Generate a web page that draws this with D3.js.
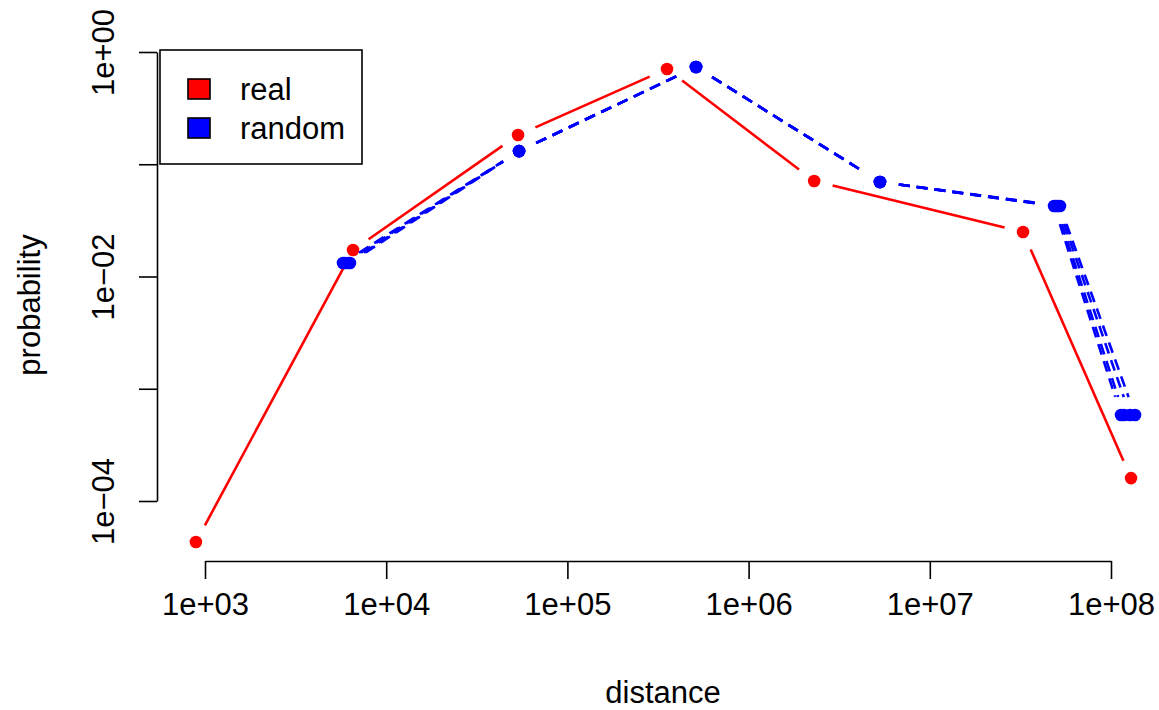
<!DOCTYPE html>
<html>
<head>
<meta charset="utf-8">
<script src="https://cdn.jsdelivr.net/npm/d3@7"></script>
<style>
  body { margin: 0; background: #fff; }
  svg { display: block; font-family: "Liberation Sans", Arial, sans-serif; }
  .axis text { font-size: 31px; fill: #000; }
  .axis path, .axis line { stroke: #000; stroke-width: 1.6; }
</style>
</head>
<body>
<svg id="chart" width="1159" height="710"></svg>
<script>
// Real contacts: mean distance per bin and probability
const realDist = [891, 6560, 53400, 354600, 2.30e6, 3.27e7, 1.29e8];
const realProb = [4.31e-5, 0.0172, 0.182, 0.706, 0.071, 0.0249, 1.60e-4];

// Random replicates: share middle bins, differ slightly at the ends
const randomDist = [
  [5776, 54100, 512600, 5.31e6, 4.85e7, 1.136e8],
  [5925, 54100, 512600, 5.31e6, 4.97e7, 1.18e8],
  [6152, 54100, 512600, 5.31e6, 5.10e7, 1.273e8],
  [6310, 54100, 512600, 5.31e6, 5.23e7, 1.357e8]
];
const randomProb = [0.0132, 0.131, 0.735, 0.0695, 0.0425, 5.83e-4];

const xTicks = [1e3, 1e4, 1e5, 1e6, 1e7, 1e8];
const yTicks = [1, 1e-1, 1e-2, 1e-3, 1e-4];
const yLabelled = [1, 1e-2, 1e-4];
const legendLabels = ['real', 'random'];
const legendColors = ['#ff0000', '#0000ff'];

const svg = d3.select('#chart');

const x = d3.scaleLog().domain([1e3, 1e8]).range([205, 1111]);
const y = d3.scaleLog().domain([1, 1e-4]).range([52, 501]);

// R style scientific labels: 1e+03, 1e-02
const sci = v => {
  const e = Math.round(Math.log10(v));
  const s = e < 0 ? '\u2212' : '+';
  return `1e${s}${String(Math.abs(e)).padStart(2, '0')}`;
};

// X axis
svg.append('g')
  .attr('class', 'axis')
  .attr('transform', 'translate(0,561)')
  .call(d3.axisBottom(x).tickValues(xTicks).tickFormat(sci).tickSize(18).tickSizeOuter(0).tickPadding(14))
  .call(g => g.selectAll('text').attr('dy', '0.71em'));

// Y axis, vertical labels, only every other decade labelled
svg.append('g')
  .attr('class', 'axis')
  .attr('transform', 'translate(157,0)')
  .call(d3.axisLeft(y).tickValues(yTicks).tickSize(18).tickSizeOuter(0)
    .tickFormat(v => yLabelled.some(t => Math.abs(Math.log10(t) - Math.log10(v)) < 1e-6) ? sci(v) : ''))
  .call(g => g.selectAll('.tick text')
    .attr('x', null).attr('y', 0)
    .attr('text-anchor', 'middle')
    .attr('dy', '0.35em')
    .attr('transform', 'translate(-54,0) rotate(-90)'));

// Axis titles
svg.append('text')
  .attr('x', 663).attr('y', 703)
  .attr('text-anchor', 'middle')
  .style('font-size', '31px')
  .text('distance');

svg.append('text')
  .attr('transform', 'translate(40,305) rotate(-90)')
  .attr('text-anchor', 'middle')
  .style('font-size', '31px')
  .text('probability');

// type="b": segments with a gap around each point
const GAP = 19;
function drawSeries(xs, ys, color, dash) {
  const pts = xs.map((d, i) => [x(d), y(ys[i])]);
  const segs = d3.pairs(pts).map(([a, b]) => {
    const dx = b[0] - a[0], dy = b[1] - a[1];
    const len = Math.hypot(dx, dy);
    if (len <= 2 * GAP) return null;
    const ux = dx / len, uy = dy / len;
    return [a[0] + ux * GAP, a[1] + uy * GAP, b[0] - ux * GAP, b[1] - uy * GAP];
  }).filter(Boolean);

  const g = svg.append('g');
  g.selectAll('line')
    .data(segs)
    .join('line')
    .attr('x1', d => d[0]).attr('y1', d => d[1])
    .attr('x2', d => d[2]).attr('y2', d => d[3])
    .style('stroke', color)
    .style('stroke-width', 2.6)
    .style('stroke-dasharray', dash);

  g.selectAll('circle')
    .data(pts)
    .join('circle')
    .attr('cx', d => d[0])
    .attr('cy', d => d[1])
    .attr('r', 6.3)
    .style('fill', color);
}

drawSeries(realDist, realProb, legendColors[0], null);
randomDist.forEach(xs => drawSeries(xs, randomProb, legendColors[1], '11,7'));

// Legend
const legend = svg.append('g').attr('transform', 'translate(160,50)');
legend.append('rect')
  .attr('width', 202).attr('height', 114)
  .style('fill', '#fff')
  .style('stroke', '#000')
  .style('stroke-width', 1.6);

const item = legend.selectAll('g.item')
  .data(legendLabels)
  .join('g')
  .attr('class', 'item')
  .attr('transform', (d, i) => `translate(0,${39 + i * 39})`);

item.append('rect')
  .attr('x', 28).attr('y', -10)
  .attr('width', 22).attr('height', 20)
  .style('fill', (d, i) => legendColors[i])
  .style('stroke', '#000')
  .style('stroke-width', 1.6);

item.append('text')
  .attr('x', 80).attr('dy', '0.35em')
  .style('font-size', '31px')
  .text(d => d);
</script>
</body>
</html>
